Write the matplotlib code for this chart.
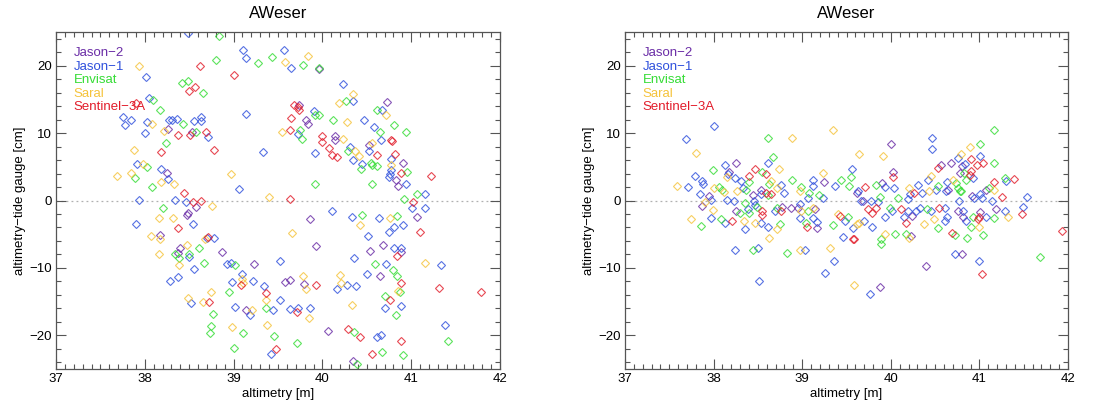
import matplotlib
matplotlib.use("Agg")
import matplotlib.pyplot as plt
from matplotlib.ticker import MultipleLocator

plt.rcParams['font.family'] = ['Liberation Sans', 'DejaVu Sans']

missions = ["Jason-2", "Jason-1", "Envisat", "Saral", "Sentinel-3A"]
colors = ["#6a2ca6", "#2f50dc", "#35dc35", "#f5c33b", "#e21c2a"]

# ---------------- left panel (raw) ----------------
L_j2_x = [38.26, 38.53, 38.25, 38.58, 38.47, 38.49, 38.40, 38.37, 38.87, 39.23, 39.14, 38.17,
          39.96, 39.74, 40.73, 39.81, 39.84, 40.14, 40.14, 40.52, 40.91, 40.83, 40.85,
          41.06, 39.86, 39.93, 40.68, 40.88, 40.54, 40.65, 39.58, 39.63, 39.79, 40.06, 40.35]
L_j2_y = [10.6, 10.1, 4.1, -0.98, -2.12, -1.92, -7.02, -7.86, -7.71, -9.4, -16.2, -5.14,
          19.5, 14.15, 14.6, 12.0, 11.3, 9.6, 9.0, 8.3, 5.6, 3.0, 2.2,
          -2.4, -2.8, -6.7, -6.6, -7.6, -7.5, -11.2, -12.1, -11.8, -12.4, -19.4, -23.8]

L_j1_x = [38.49, 39.11, 39.14, 38.01, 38.05, 39.14, 37.75, 37.78, 37.84, 38.02, 38.00, 38.27,
          38.31, 38.36, 38.55, 38.63, 38.63, 38.71, 39.33, 37.91, 38.18, 38.26, 39.06,
          37.93, 38.345, 38.46, 38.54, 37.90, 38.70, 38.78, 38.50, 38.55, 38.93, 38.97, 38.28,
          38.37, 39.10, 38.98, 39.22, 39.34, 38.52, 39.02, 39.18,
          39.57, 39.65, 40.23, 40.35, 39.91, 40.67, 40.47, 40.58, 39.72, 40.66, 40.31, 39.92,
          40.53, 40.35, 40.45, 40.77, 40.77, 40.76, 40.75, 40.94, 41.15,
          41.01, 41.16, 40.11, 40.33, 40.64, 40.91, 40.81, 40.75, 40.51, 40.81, 40.89, 40.36,
          39.52, 40.72, 41.33, 40.50, 40.28, 40.38, 40.16, 39.52, 39.44, 39.63, 39.73, 39.86,
          40.70, 40.88, 39.42, 40.62, 40.66, 41.38]
L_j1_y = [24.8, 22.3, 21.1, 18.26, 15.2, 12.8, 12.35, 11.2, 11.9, 11.6, 10.0, 12.0,
          11.96, 12.15, 11.76, 12.35, 11.86, 9.4, 7.27, 5.36, 4.68, 3.2, 1.75,
          0.06, 0.06, -0.24, -3.5, -3.5, -5.54, -5.6, -8.36, -10.2, -9.4, -9.3, -12.0,
          -11.3, -10.9, -12.07, -12.0, -12.7, -15.2, -15.8, -17.0,
          22.3, 19.6, 17.25, 14.7, 13.26, 13.5, 11.9, 10.9, 9.8, 9.0, 8.0, 7.0,
          7.4, 6.0, 5.4, 6.2, 4.5, 3.9, 3.5, 2.5, 1.0,
          -1.1, -1.1, -1.5, -2.5, -2.6, -3.6, -4.0, -4.7, -5.2, -7.1, -7.0, -8.5,
          -9.0, -9.4, -9.6, -10.9, -12.5, -12.7, -13.1, -14.8, -16.2, -16.1, -15.9, -15.9,
          -16.0, -15.7, -22.8, -20.3, -19.9, -18.4]

L_en_x = [38.84, 39.28, 38.80, 38.42, 38.49, 38.65, 38.09, 38.17, 38.43, 38.58, 38.24, 38.02,
          37.89, 38.08,
          38.20, 38.61, 38.34, 38.38, 38.50, 38.67, 39.02, 38.95, 39.36, 38.77, 38.75, 38.73,
          39.11, 39.01,
          39.43, 39.78, 39.96, 40.27, 39.92, 39.96, 40.62, 40.12, 40.81, 40.94, 40.65, 39.75,
          39.77, 40.29, 40.55, 40.56, 40.61, 40.43, 40.95, 39.92, 40.56, 41.06, 40.92,
          40.45, 40.84, 40.59, 40.80, 40.84, 40.87, 40.70, 40.83, 39.46, 39.71, 40.36, 40.67,
          40.91, 41.42, 40.39]
L_en_y = [24.4, 20.4, 20.85, 17.4, 17.8, 15.96, 14.9, 13.4, 11.4, 10.1, 8.5, 4.9,
          3.3, 2.0,
          -1.13, -7.12, -8.0, -8.6, -8.0, -9.25, -9.5, -13.55, -15.9, -16.9, -18.6, -19.7,
          -19.7, -21.9,
          21.3, 20.1, 19.6, 14.8, 12.7, 12.7, 13.5, 11.9, 11.2, 10.15, 10.15, 10.4,
          9.1, 7.3, 5.6, 5.2, 5.1, 4.7, 4.2, 2.5, 2.4, 1.0, 0.15,
          -2.2, -2.3, -9.4, -10.3, -11.2, -13.6, -14.1, -17.0, -20.1, -21.2, -19.5, -22.5,
          -22.95, -20.9, -24.3]

L_sa_x = [37.93, 38.08, 38.22, 37.88, 37.98, 37.69, 37.84, 38.18, 38.33, 38.97,
          38.76, 38.16, 38.32, 38.07, 38.17, 38.68, 38.48, 38.16, 38.39, 39.11, 39.09, 38.74,
          38.49, 38.65, 39.21, 38.98, 39.38,
          39.58, 39.84, 40.34, 40.19, 40.72, 40.28, 39.55, 40.23, 40.56, 40.37, 40.41, 40.77,
          39.40,
          40.76, 40.42, 39.66, 41.15, 39.78, 40.20, 39.82, 40.21, 40.85, 39.36, 39.85, 40.33]
L_sa_y = [20.0, 11.3, 10.25, 7.56, 5.46, 3.65, 4.14, 2.7, 2.4, 3.95,
          -0.83, -2.57, -2.57, -5.24, -5.68, -5.68, -6.62, -8.0, -9.6, -12.3, -11.7, -13.55,
          -14.5, -15.0, -16.3, -18.75, -18.4,
          20.5, 21.5, 15.8, 14.4, 12.7, 11.7, 10.1, 9.1, 8.5, 7.4, 6.6, 5.2,
          0.5,
          -2.6, -3.6, -4.8, -9.3, -11.2, -11.0, -13.2, -12.2, -13.5, -14.8, -17.4, -15.5]

L_s3_x = [38.62, 39.00, 38.50, 38.57, 37.90, 38.37, 38.51, 38.69, 38.18, 38.78, 38.44,
          38.54, 38.63, 38.37, 38.71, 39.08, 39.36, 38.72,
          39.68, 39.72, 39.74, 39.65, 39.63, 40.00, 40.00, 40.77, 40.78, 40.07, 40.11, 40.16,
          40.62, 40.82, 40.89, 41.22, 41.02, 39.63,
          41.10, 40.84, 39.93, 40.88, 41.31, 39.71, 40.76, 39.48, 40.29, 40.42, 40.88, 40.56,
          41.79]
L_s3_y = [19.9, 18.65, 16.2, 16.8, 14.5, 9.66, 9.7, 10.2, 7.17, 7.46, 1.16,
          -0.19, 0.0, -4.05, -5.39, -12.56, -13.7, -15.0,
          14.1, 13.85, 13.45, 12.2, 10.4, 9.6, 8.7, 9.0, 8.8, 7.8, 6.8, 6.4,
          6.8, 6.85, 4.1, 3.65, -0.2, 0.2,
          -4.6, -8.3, -12.5, -12.2, -13.0, -16.5, -14.8, -22.0, -19.0, -20.2, -20.8, -22.8,
          -13.55]

# ---------------- right panel (corrected) ----------------
R_j2_x = [38.25, 38.17, 38.54, 38.44, 37.95, 37.87, 38.25, 38.77, 38.87, 38.95, 39.25, 39.15,
          39.17,
          40.00, 40.68, 40.57, 40.80, 40.78, 40.02, 39.90, 39.62, 40.64, 40.92, 41.07, 41.19,
          41.01, 40.76, 40.82, 40.24, 40.23, 39.69, 39.88, 40.40, 40.80]
R_j2_y = [5.5, 4.3, 1.5, 0.8, 0.7, -0.8, -1.56, -1.0, -1.07, -1.07, 2.8, -1.2,
          -4.1,
          8.4, 5.6, 5.2, 5.1, 4.1, 4.3, 2.6, 1.15, 1.5, 0.65, 1.5, -1.3,
          -1.7, -1.56, -2.45, -2.3, -5.2, -0.1, -12.9, -9.7, -8.0]

R_j1_x = [38.00, 37.69, 38.13, 38.61, 38.16, 38.24, 37.79, 37.87, 37.88, 37.71, 38.31, 38.33,
          38.53, 38.76, 38.79, 37.85, 37.97, 38.15, 38.23, 38.46, 38.47, 38.39, 38.13, 37.97,
          38.35, 38.53, 38.61, 38.69, 38.98, 38.98, 39.06, 39.12, 39.12, 39.24, 39.12, 39.17,
          39.37, 39.56, 39.63, 39.66, 39.48, 39.57, 39.46, 38.24, 38.50, 39.03, 39.36, 39.26,
          38.51,
          40.46, 40.47, 41.01, 40.76, 40.84, 40.93, 40.63, 40.51, 40.62, 40.42, 40.31, 40.04,
          39.94, 40.22, 40.35, 40.19, 40.77, 40.94, 41.03, 41.01, 41.30, 41.14, 41.54, 41.29,
          41.49, 41.08, 40.85, 40.81, 40.63, 40.61, 40.61, 40.45, 40.29, 40.33, 40.19, 40.15,
          39.94, 40.01, 39.79, 39.70, 39.78, 39.86, 39.77, 40.73, 41.00]
R_j1_y = [11.04, 9.07, 5.3, 5.5, 3.95, 3.4, 3.6, 2.87, 2.5, 2.0, 2.9, 1.8,
          0.9, 2.3, 1.15, 0.9, 0.06, 0.1, -0.1, -0.1, -0.7, -1.2, -3.3, -2.6,
          -4.2, -3.4, -3.9, -1.56, -0.5, -2.6, 0.3, 3.1, 2.1, 0.3, -2.6, -3.2,
          2.1, 4.7, 1.4, -0.1, -3.1, -4.1, -5.35, -7.4, -7.1, -7.3, -9.0, -10.7,
          -11.9,
          9.3, 7.6, 6.6, 6.3, 5.4, 3.4, 2.8, 1.5, 1.4, 3.0, 2.3, 1.8,
          2.0, 1.0, 1.15, 0.2, -0.1, 0.4, 0.3, 1.0, 2.9, -0.1, 0.5, -1.6,
          -1.0, -2.4, -3.0, -1.56, -2.45, -3.0, -1.07, -1.56, -1.56, -1.07, -1.5, -2.5,
          -2.5, -1.56, -4.0, -3.0, 0.0, -0.2, -13.8, -8.0, -9.0]

R_en_x = [38.61, 38.67, 37.99, 38.55, 38.06, 38.09, 38.40, 38.37, 38.61, 38.62, 38.88, 38.49,
          38.36, 38.40, 38.30, 38.08, 37.86, 38.75, 38.71, 38.99, 39.08, 39.19, 39.06, 39.04,
          39.44, 39.53, 39.55, 39.52, 39.35, 38.44, 38.83,
          41.16, 41.01, 41.16, 40.83, 40.85, 40.74, 40.76, 40.79, 40.53, 39.83, 39.88, 40.08,
          40.78, 41.11, 41.29, 41.17, 40.93, 40.90, 41.04, 40.86, 40.53, 40.73, 40.41, 40.17,
          40.05, 39.99, 39.89, 39.89, 41.68]
R_en_y = [9.26, 6.46, 4.5, 4.3, 2.0, 1.6, 2.8, 1.5, 0.8, 2.5, 3.0, -1.0,
          -0.3, -1.8, -1.9, -2.8, -3.8, -3.5, -1.07, 2.0, 1.15, 0.75, -1.56, -3.3,
          3.0, 2.1, 3.5, -2.45, -3.6, -7.3, -7.8,
          10.5, 8.4, 5.5, 4.1, 3.0, 2.6, 1.8, 1.4, 2.1, 2.3, 0.5, 0.3,
          1.4, 1.9, 3.4, -2.6, -2.5, -4.0, -5.1, -5.5, -4.1, -5.1, -1.2, -5.0,
          -5.0, -1.07, -5.7, -6.5, -8.45]

R_sa_x = [38.89, 39.35, 37.80, 39.64, 38.74, 38.15, 37.59, 38.01, 38.12, 38.26, 38.65, 38.71,
          37.90, 37.99, 38.34, 37.74, 38.47, 38.71, 38.99, 38.97, 39.12, 39.23, 39.40, 39.64,
          38.62, 38.97, 39.31, 39.59,
          39.91, 40.89, 40.79, 40.70, 40.45, 40.43, 40.21, 41.17, 41.32, 41.00, 40.49, 40.38,
          40.20, 39.93, 39.62]
R_sa_y = [9.26, 10.4, 7.0, 6.95, 4.7, 3.5, 2.1, 1.9, 1.3, 1.4, 2.9, 1.9,
          -0.2, -1.4, -3.0, -2.7, -3.3, -4.3, -1.5, 1.4, -1.07, 4.1, -1.95, -3.4,
          -5.5, -7.4, -7.1, -12.6,
          6.6, 8.0, 6.9, 3.1, 3.6, 1.4, 1.8, 1.5, -2.4, -4.0, -2.8, -3.5,
          -5.6, -5.0, -3.5]

R_s3_x = [38.47, 38.59, 38.40, 38.59, 38.65, 38.55, 38.55, 38.21, 38.76, 39.05, 39.43, 39.57,
          40.91, 40.97, 41.04, 40.53, 40.91, 40.89, 40.02, 39.71, 40.26, 40.11, 41.17, 41.39,
          41.26, 41.48, 41.00, 40.98, 40.54, 40.69, 40.17, 39.74, 39.79, 39.83, 39.585, 41.03,
          41.93]
R_s3_y = [4.7, 3.95, 3.7, 1.15, 0.9, -1.56, -2.15, -3.1, -1.56, -4.0, -2.35, -5.7,
          6.1, 5.3, 5.6, 4.8, 4.4, 3.85, 3.5, 2.0, 1.15, -1.2, 2.8, 3.2,
          0.5, -1.95, -2.5, -2.8, -1.07, -4.8, -3.3, -1.3, -1.8, -1.07, -5.7, -10.9,
          -4.5]

left_data = [(L_j2_x, L_j2_y), (L_j1_x, L_j1_y), (L_en_x, L_en_y), (L_sa_x, L_sa_y), (L_s3_x, L_s3_y)]
right_data = [(R_j2_x, R_j2_y), (R_j1_x, R_j1_y), (R_en_x, R_en_y), (R_sa_x, R_sa_y), (R_s3_x, R_s3_y)]

W, H = 1113, 404
fig = plt.figure(figsize=(W / 100, H / 100), dpi=100)
ax_l = fig.add_axes([56 / W, 35 / H, 444 / W, 337 / H])
ax_r = fig.add_axes([625 / W, 35 / H, 443 / W, 337 / H])

frame_col = "#555555"
for ax, data in ((ax_l, left_data), (ax_r, right_data)):
    ax.axhline(0, color="#b0b0b0", lw=0.9, ls=(0, (1.5, 2.5)), zorder=1)
    for (xs, ys), c in zip(data, colors):
        ax.plot(xs, ys, ls="none", marker="D", ms=4.4, mfc="none", mec=c,
                mew=0.8, alpha=0.8, zorder=2)
    ax.set_xlim(37, 42)
    ax.set_ylim(-25, 25)
    ax.xaxis.set_major_locator(MultipleLocator(1))
    ax.xaxis.set_minor_locator(MultipleLocator(0.1))
    ax.yaxis.set_major_locator(MultipleLocator(10))
    ax.yaxis.set_minor_locator(MultipleLocator(2))
    ax.tick_params(which="both", direction="in", top=True, right=True,
                   color=frame_col, width=0.8, labelsize=9.5, pad=3)
    ax.tick_params(which="major", length=7)
    ax.tick_params(which="minor", length=3.5)
    for s in ax.spines.values():
        s.set_color(frame_col)
        s.set_linewidth(0.9)
    ax.set_title("AWeser", fontsize=12, pad=10)
    ax.set_xlabel("altimetry [m]", fontsize=9.5, labelpad=2)
    ax.set_ylabel("altimetry\u2212tide gauge [cm]", fontsize=9.5, labelpad=2)
    for i, (name, c) in enumerate(zip(missions, colors)):
        ax.text(0.04, 0.938 - i * 0.0405, name.replace("-", "\u2212"), color=c,
                fontsize=9.5, transform=ax.transAxes, va="center", ha="left")

fig.savefig("out.png", dpi=100)
